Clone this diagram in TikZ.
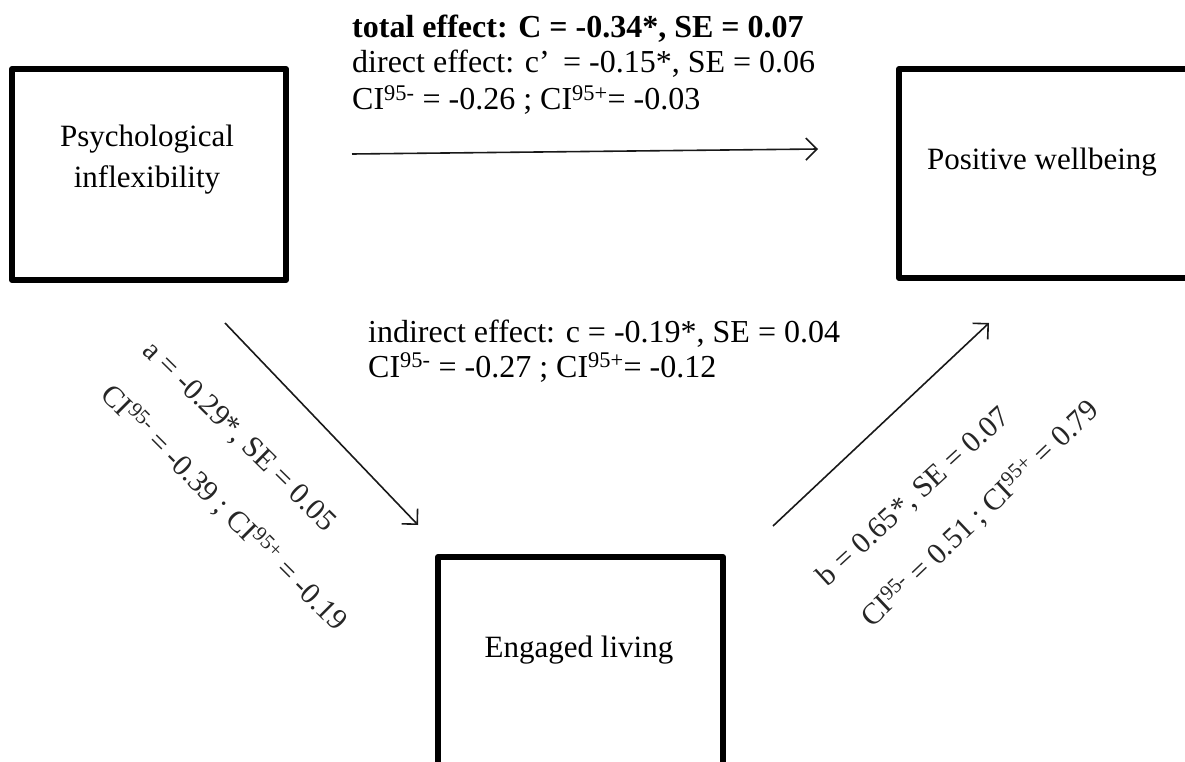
\documentclass[tikz,border=0pt]{standalone}
\usepackage{fontspec}
\setmainfont{Liberation Serif}
\usetikzlibrary{arrows.meta}
\begin{document}
\begin{tikzpicture}[x=1pt,y=-1pt,
  boxst/.style={draw=black,line width=6pt,line join=round},
  txt/.style={inner sep=0pt,font=\fontsize{31}{36}\selectfont,text=black},
  ltxt/.style={inner sep=0pt,font=\fontsize{32}{36}\selectfont,text=black},
  rtxt/.style={inner sep=0pt,font=\fontsize{30}{36}\selectfont,text=black!85},
  arr/.style={draw=black!90,line width=1.6pt,-{Straight Barb[length=11pt,width=22pt,line width=1.6pt]}}]
\useasboundingbox (0,0) rectangle (1185,762);
\clip (0,0) rectangle (1185,762);
% boxes
\draw[boxst] (12,69) rectangle (286,280);
\coordinate (psy) at (149,174);
\draw[boxst] (899,69) rectangle (1200,278);
\coordinate (pw) at (1040,174);
\draw[boxst] (438,557) rectangle (723,790);
\coordinate (el) at (580,670);
% box texts
\node[txt,anchor=base] (psyA) at (147,147) {Psychological};
\node[txt,anchor=base] (psyB) at (147,187) {inflexibility};
\node[txt,anchor=base] (pwT) at (1042,170) {Positive wellbeing};
\node[txt,anchor=base] (elT) at (579,657) {Engaged living};
% top labels
\node[ltxt,anchor=base west] (tot) at (352,38) {\textbf{total effect: C = -0.34*, SE = 0.07}};
\node[ltxt,anchor=base west] (dir) at (352,73) {direct effect: c’\, = -0.15*, SE = 0.06};
\node[ltxt,anchor=base west] (ci1) at (352,110) {CI\textsuperscript{95-} = -0.26 ; CI\textsuperscript{95+}= -0.03};
% indirect labels
\node[ltxt,anchor=base west] (ind) at (368,342) {indirect effect: c = -0.19*, SE = 0.04};
\node[ltxt,anchor=base west] (ci2) at (368,377) {CI\textsuperscript{95-} = -0.27 ; CI\textsuperscript{95+}= -0.12};
% arrows
\coordinate (c1s) at (352,154);
\coordinate (c1e) at (818,149);
\draw[arr] (c1s) -- (c1e);
\coordinate (as) at (225,323);
\coordinate (ae) at (418,525);
\draw[arr] (as) -- (ae);
\coordinate (bs) at (773,526);
\coordinate (be) at (989,323);
\draw[arr] (bs) -- (be);
% rotated labels
\node[rtxt,rotate=-44.5] (la1) at (239,437) {a = -0.29*, SE = 0.05};
\node[rtxt,rotate=-45] (la2) at (224,508) {CI\textsuperscript{95-} = -0.39 ; CI\textsuperscript{95+} = -0.19};
\node[rtxt,rotate=42.5] (lb1) at (914,497) {b = 0.65*, SE = 0.07};
\node[rtxt,rotate=43.5] (lb2) at (980,514) {CI\textsuperscript{95-} = 0.51 ; CI\textsuperscript{95+} = 0.79};
\end{tikzpicture}
\end{document}
